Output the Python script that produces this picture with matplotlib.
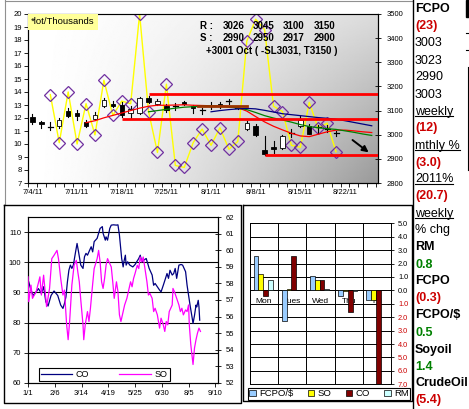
import matplotlib
matplotlib.use('Agg')
import matplotlib.pyplot as plt
import numpy as np
import pandas as pd
from matplotlib.patches import Rectangle, Patch
from matplotlib.lines import Line2D

plt.rcParams['font.family'] = ['Liberation Sans', 'DejaVu Sans']

# ---------------- data: top chart (FCPO daily, Jul-Aug 2011) ----------------
start_day = '2011-07-04'
n_days = 39
opens  = [3074, 3054, 3033, 3037, 3098, 3090, 3054, 3066, 3120, 3127,
          3125, 3089, 3090, 3153, 3129, 3118, 3118, 3136, 3119, 3101,
          3120, 3126, 3141, 3110, 3022, 3036, 2935, 2950, 2944, 3008,
          3036, 3036, 3030, 3025, 3006]
highs  = [3085, 3056, 3051, 3068, 3111, 3102, 3060, 3093, 3151, 3140,
          3134, 3120, 3155, 3159, 3148, 3126, 3130, 3138, 3124, 3111,
          3134, 3134, 3148, 3118, 3055, 3044, 2994, 2975, 2999, 3022,
          3078, 3044, 3042, 3040, 3017]
lows   = [3046, 3026, 3018, 3029, 3074, 3060, 3032, 3060, 3113, 3115,
          3074, 3069, 3087, 3131, 3123, 3094, 3101, 3123, 3090, 3087,
          3107, 3111, 3129, 3105, 3020, 2994, 2918, 2926, 2940, 2992,
          3033, 3003, 3006, 3010, 2994]
closes = [3051, 3043, 3033, 3060, 3079, 3076, 3035, 3083, 3145, 3118,
          3083, 3108, 3152, 3134, 3140, 3102, 3118, 3126, 3112, 3101,
          3120, 3118, 3141, 3110, 3050, 2999, 2922, 2940, 2995, 3008,
          3061, 3005, 3030, 3025, 3006]

vol_start = 2
volume = [13.8, 10.1, 14.0, 10.0, 13.1, 10.7, 14.9, 12.2, 13.3, 13.1,
          20.0, 12.5, 9.35, 14.6, 8.35, 8.2, 10.1, 11.15, 9.9, 11.25,
          9.6, 10.2, 17.9, 19.6, 18.8, 12.9, 12.5, 9.9, 9.75, 13.2,
          11.2, 11.6, 9.4]

red_start = 6
red_ma = [3050, 3058, 3070, 3080, 3090, 3100, 3110, 3118, 3122, 3122,
          3123, 3124, 3122, 3121, 3120, 3119, 3117, 3112, 3098, 3075,
          3053, 3035, 3020, 3006, 2995, 2992, 3002, 3012, 3019, 3019,
          3016, 3012, 3009]
green_start = 13
green_ma = [3095, 3100, 3105, 3110, 3114, 3116, 3118, 3119, 3118, 3115,
            3111, 3104, 3092, 3079, 3069, 3061, 3052, 3042, 3034, 3029,
            3025, 3022, 3016, 3010, 3003, 2997]
blue_start = 20
blue_ma = [3095, 3100, 3104, 3107, 3109, 3107, 3101, 3094, 3087, 3083,
           3079, 3075, 3071, 3068, 3064, 3058, 3051, 3044, 3037]
brown_seg = [18.5, 24.0]
brown_level = 3117

# horizontal resistance / support lines: (start index, level)
level_lines = [(13, 3168), (10, 3067), (26, 2914)]
arrow_from = (35.6, 2985)
arrow_to = (37.9, 2920)

resist_vals = [3026, 3045, 3100, 3150]
support_vals = [2990, 2950, 2917, 2900]
trade_note = '+3001 Oct ( -SL3031, T3150 )'

# ---------------- data: CO / SO 2011 ----------------
co_day = [1, 4, 7, 11, 14, 18, 21, 24, 27, 31,
          35, 40, 44, 47, 49, 51, 53, 55, 57, 59,
          61, 64, 66, 68, 71, 74, 76, 78, 80, 83,
          85, 87, 89, 93, 95, 97, 100, 101, 104, 105,
          107, 110, 112, 115, 119, 121, 123, 126, 128, 129,
          131, 132, 134, 137, 141, 144, 149, 151, 153, 156,
          159, 161, 163, 167, 169, 171, 174, 177, 179, 182,
          185, 187, 189, 191, 194, 196, 198, 200, 203, 206,
          208, 212, 214, 216, 218, 221, 222, 224, 226, 227,
          229, 230, 231]
co_val = [93.5, 90.8, 89.0, 90.2, 91.3, 89.7, 91.9, 86.9, 85.5, 89.0,
          90.5, 89.0, 85.8, 84.7, 86.3, 88.5, 93.5, 97.4, 99.1, 98.0,
          99.1, 103.5, 106.3, 103.5, 99.1, 98.0, 101.9, 103.0, 102.4, 104.1,
          105.2, 103.5, 106.9, 108.0, 109.7, 111.3, 111.9, 109.7, 107.4, 108.5,
          107.4, 111.3, 112.4, 112.5, 112.4, 112.5, 109.1, 101.3, 98.5, 100.2,
          102.4, 99.1, 100.2, 99.1, 98.5, 99.3, 101.3, 102.4, 100.2, 100.8,
          101.3, 99.7, 98.0, 95.8, 92.4, 93.0, 91.9, 90.8, 90.2, 92.4,
          94.7, 96.3, 94.7, 97.4, 95.8, 96.3, 98.0, 94.7, 99.1, 99.3,
          99.1, 96.9, 92.4, 89.1, 85.8, 81.3, 79.7, 82.4, 85.8, 85.2,
          87.4, 85.2, 80.8]
so_day = [0, 1, 4, 6, 11, 16, 18, 21, 25, 29,
          32, 35, 39, 41, 44, 47, 49, 52, 54, 56,
          59, 62, 65, 67, 69, 71, 74, 75, 77, 80,
          82, 84, 86, 89, 93, 95, 97, 99, 101, 103,
          105, 107, 110, 112, 114, 116, 119, 121, 123, 125,
          128, 130, 133, 138, 140, 142, 144, 147, 149, 151,
          153, 155, 158, 160, 162, 164, 167, 169, 171, 174,
          177, 179, 182, 184, 186, 188, 190, 194, 195, 197,
          200, 203, 205, 207, 209, 212, 214, 216, 217, 219,
          222, 224, 226, 228, 230, 232]
so_val = [58.4, 56.9, 57.9, 57.1, 57.5, 58.4, 57.3, 58.5, 56.6, 57.7,
          59.5, 59.7, 60.0, 59.5, 58.3, 57.3, 57.6, 55.5, 54.6, 55.7,
          57.9, 59.1, 59.4, 58.7, 58.1, 57.0, 55.5, 54.6, 55.5, 56.3,
          55.7, 56.5, 57.5, 58.9, 59.5, 60.0, 59.3, 58.1, 57.7, 58.3,
          59.1, 59.5, 59.2, 59.0, 58.1, 57.1, 58.1, 57.5, 56.1, 55.7,
          56.3, 56.7, 57.1, 58.1, 57.8, 58.3, 58.6, 59.1, 58.9, 59.6,
          59.3, 59.6, 58.7, 58.1, 57.3, 57.4, 57.1, 56.3, 56.5, 56.1,
          55.3, 55.9, 55.5, 55.1, 55.7, 55.5, 56.3, 56.7, 57.7, 57.5,
          57.1, 56.7, 56.3, 56.5, 56.1, 56.4, 56.3, 56.7, 55.5, 54.3,
          53.1, 54.1, 54.6, 55.0, 55.3, 55.1]
tick_days = [0, 36, 72, 108, 144, 180, 216, 252]

# ---------------- data: daily % change bars ----------------
weekdays = ['Mon', 'Tues', 'Wed', 'Thu', 'Fri']
bar_names = ['FCPO/$', 'SO', 'CO', 'RM']
bar_colors = ['#99CCFF', '#FFFF00', '#800000', '#CCFFFF']
fcpo_usd = [2.6, -2.3, 1.1, -0.4, -0.75]
so_chg = [1.2, 0.08, 0.75, -0.05, -0.7]
co_chg = [-0.4, 2.6, 0.75, -1.6, -7.0]
rm_chg = [0.75, 0.02, 0.1, -0.05, 0.05]

# ---------------- right column of figures ----------------
RED, GREEN = '#CC0000', '#008000'
side_text = [('FCPO', 'k', 'bold', False), ('(23)', RED, 'bold', False),
             ('3003', 'k', 'normal', False), ('3023', 'k', 'normal', False),
             ('2990', 'k', 'normal', False), ('3003', 'k', 'normal', False),
             ('weekly', 'k', 'normal', True), ('(12)', RED, 'bold', False),
             ('mthly %', 'k', 'normal', True), ('(3.0)', RED, 'bold', False),
             ('2011%', 'k', 'normal', True), ('(20.7)', RED, 'bold', False),
             ('weekly', 'k', 'normal', True), ('% chg', 'k', 'normal', False),
             ('RM', 'k', 'bold', False), ('0.8', GREEN, 'bold', False),
             ('FCPO', 'k', 'bold', False), ('(0.3)', RED, 'bold', False),
             ('FCPO/$', 'k', 'bold', False), ('0.5', GREEN, 'bold', False),
             ('Soyoil', 'k', 'bold', False), ('1.4', GREEN, 'bold', False),
             ('CrudeOil', 'k', 'bold', False), ('(5.4)', RED, 'bold', False)]

# ---------------- layout helpers (pixel -> figure fraction) ----------------
W, H = 469, 409
def fx(x):
    return x / W
def fy(y):
    return 1 - y / H
def box(x0, y0, x1, y1):
    return [fx(x0), fy(y1), fx(x1) - fx(x0), fy(y0) - fy(y1)]
def fline(xs, ys, **kw):
    fig.add_artist(Line2D([fx(v) for v in xs], [fy(v) for v in ys],
                          transform=fig.transFigure, **kw))

fig = plt.figure(figsize=(4.69, 4.09), dpi=100)

# ================= top chart =================
ax = fig.add_axes(box(28, 14, 378, 183))
gx, gy = np.meshgrid(np.linspace(0, 1, 300), np.linspace(0, 1, 150))
shade = 1 - 0.4 * gx ** 1.5 * (0.35 + 0.65 * gy)
ax.imshow(shade, cmap='gray', vmin=0, vmax=1, extent=[0, 1, 0, 1],
          transform=ax.transAxes, aspect='auto', zorder=0, interpolation='bilinear')

vx = np.arange(vol_start, vol_start + len(volume))
ax.plot(vx, volume, color='#FFFF00', lw=1, zorder=2)
ax.plot(vx, volume, ls='none', marker='D', ms=6.3, mfc='none',
        mec='#7030A0', mew=0.9, zorder=2.5)
ax.set_xlim(-0.5, 38.7)
ax.set_ylim(7, 20)
ax.set_yticks(range(7, 21))
ax.tick_params(axis='y', labelsize=5.5, length=3, pad=1.5, width=0.6)

dates = pd.bdate_range(start_day, periods=n_days)
lab_idx = list(range(0, n_days, 5))
ax.set_xticks(np.arange(-0.5, n_days, 1))
ax.set_xticklabels([])
ax.set_xticks(lab_idx, minor=True)
ax.set_xticklabels([f'{d.month}/{d.day}/{d.strftime("%y")}' for d in dates[lab_idx]], minor=True)
ax.tick_params(axis='x', which='major', length=3, width=0.6)
ax.tick_params(axis='x', which='minor', length=0, labelsize=5.5, pad=4)
for s in ax.spines.values():
    s.set_linewidth(0.8)
ax.spines['top'].set_color('#707070')

ax2 = ax.twinx()
ax2.set_ylim(2800, 3500)
ax2.set_yticks(range(2800, 3501, 100))
ax2.tick_params(axis='y', labelsize=5.5, direction='inout', length=5, pad=4, width=0.6)

for i, (o, h, l, c) in enumerate(zip(opens, highs, lows, closes)):
    ax2.plot([i, i], [l, h], color='black', lw=0.8, zorder=2)
    if o == c:
        ax2.plot([i - 0.28, i + 0.28], [o, o], color='black', lw=0.9, zorder=3)
    else:
        ax2.add_patch(Rectangle((i - 0.25, min(o, c)), 0.5, max(abs(c - o), 3),
                                facecolor='black' if c < o else 'white',
                                edgecolor='black', lw=0.6, zorder=3))

ax2.plot(np.arange(red_start, red_start + len(red_ma)), red_ma, color='#FF0000', lw=0.9, zorder=4)
ax2.plot(np.arange(green_start, green_start + len(green_ma)), green_ma, color='#008000', lw=0.9, zorder=4)
ax2.plot(np.arange(blue_start, blue_start + len(blue_ma)), blue_ma, color='#000080', lw=0.9, zorder=4)
ax2.plot(brown_seg, [brown_level, brown_level], color='#993300', lw=2, zorder=4)
for x0, lvl in level_lines:
    ax2.plot([x0, 38.7], [lvl, lvl], color='#FF0000', lw=2, zorder=5, solid_capstyle='butt')
ax2.annotate('', xy=arrow_to, xytext=arrow_from,
             arrowprops=dict(arrowstyle='-|>', color='black', lw=1.4, mutation_scale=9))

def afx(x):
    return (x - 28) / 350
def afy(y):
    return (183 - y) / 169
col_x = [234, 263.5, 294, 325]
for row_y, tag, vals in [(26, 'R :', resist_vals), (38.3, 'S :', support_vals)]:
    ax2.text(afx(200), afy(row_y), tag, transform=ax2.transAxes, fontsize=7,
             weight='bold', va='center', ha='left', zorder=6)
    for cx, v in zip(col_x, vals):
        ax2.text(afx(cx), afy(row_y), str(v), transform=ax2.transAxes, fontsize=7,
                 weight='bold', va='center', ha='center', zorder=6)
ax2.text(afx(272), afy(50.7), trade_note, transform=ax2.transAxes, fontsize=7,
         weight='bold', va='center', ha='center', zorder=6)
ax2.text(afx(31), afy(22), '*lot/Thousands', transform=ax2.transAxes, fontsize=6.8,
         va='center', ha='left', zorder=6,
         bbox=dict(facecolor='#FFFF99', edgecolor='none', boxstyle='square,pad=0.35'))

# ================= bottom left: CO and SO =================
ax3 = fig.add_axes(box(28, 217.3, 218.3, 382.7))
l_co, = ax3.plot(co_day, co_val, color='#000080', lw=0.9, zorder=3)
ax3.set_xlim(0, 256)
ax3.set_ylim(60, 115)
ax3.set_yticks(range(60, 111, 10))
for g in range(70, 111, 10):
    ax3.axhline(g, color='black', lw=0.8, zorder=1)
base = pd.Timestamp('2011-01-01')
ax3.set_xticks(tick_days)
ax3.set_xticklabels([f'{(base + pd.Timedelta(days=d)).month}/{(base + pd.Timedelta(days=d)).day}'
                     for d in tick_days])
ax3.tick_params(labelsize=5.5, length=3, width=0.6, pad=2)
ax3.spines['top'].set_color('#808080')

ax4 = ax3.twinx()
l_so, = ax4.plot(so_day, so_val, color='#FF00FF', lw=0.9, zorder=3)
ax4.set_ylim(52, 62)
ax4.set_yticks(range(52, 63))
ax4.tick_params(labelsize=5.5, direction='inout', length=4, width=0.6, pad=3)
leg = ax4.legend([l_co, l_so], ['CO', 'SO'], loc='upper left',
                 bbox_to_anchor=(0.0315, 0.119, 0.736, 0), mode='expand', ncol=2,
                 fontsize=6.5, fancybox=False, edgecolor='black', framealpha=1,
                 borderpad=0.25, handlelength=3.5, handletextpad=0.4)
leg.get_frame().set_linewidth(0.8)

# ================= bottom right: daily % change =================
ax5 = fig.add_axes(box(250, 223.3, 391, 384.3))
ax5.set_xlim(-0.5, 4.5)
ax5.set_ylim(-7, 5)
for g in range(-7, 6):
    ax5.axhline(g, color='black', lw=0.7, zorder=0.5)
for g in np.arange(-0.5, 5, 1):
    ax5.axvline(g, color='black', lw=0.7, zorder=0.5)
for i, d in enumerate(weekdays):
    ax5.text(i, -0.85, d, ha='center', va='center', fontsize=6, zorder=1)
xpos = np.arange(len(weekdays))
bw = 0.17
for k, (vals, col) in enumerate(zip([fcpo_usd, so_chg, co_chg, rm_chg], bar_colors)):
    ax5.bar(xpos + (k - 1.5) * bw - 0.03, vals, width=bw, color=col,
            edgecolor='black', lw=0.5, zorder=3)
ax5.set_xticks([])
ax5.yaxis.tick_right()
ax5.set_yticks(range(-7, 6))
ax5.set_yticklabels([f'{abs(v):.1f}' for v in range(-7, 6)])
for v, t in zip(range(-7, 6), ax5.get_yticklabels()):
    if v < 0:
        t.set_color('#CC0000')
ax5.tick_params(axis='y', labelsize=5.3, direction='inout', length=4, width=0.6, pad=3)
for s in ax5.spines.values():
    s.set_linewidth(0.7)
handles = [Patch(facecolor=c, edgecolor='black', lw=0.5) for c in bar_colors]
leg2 = ax5.legend(handles, bar_names, loc='upper left',
                  bbox_to_anchor=(-0.014, -0.022, 1.149, 0), mode='expand', ncol=4,
                  fontsize=6.8, fancybox=False, edgecolor='black', framealpha=1,
                  borderpad=0.15, handlelength=0.7, handleheight=0.7,
                  handletextpad=0.3, borderaxespad=0)
leg2.get_frame().set_linewidth(0.8)

# ================= right column text =================
texts = []
for i, (s, col, wt, und) in enumerate(side_text):
    t = fig.text(fx(415), fy(9.5 + 17.0 * i), s, color=col, weight=wt,
                 fontsize=9, ha='left', va='center')
    texts.append((t, und))
fig.canvas.draw()
rend = fig.canvas.get_renderer()
for t, und in texts:
    if und:
        bb = t.get_window_extent(rend)
        yb = bb.y0 + 1.5
        fig.add_artist(Line2D([bb.x0 / W, bb.x1 / W], [yb / H, yb / H],
                              transform=fig.transFigure, color='black', lw=0.8))

# ================= panel frames =================
fline([5, 5], [0, 205], color='#909090', lw=0.8)
fline([5, 412.7], [1, 1], color='#909090', lw=0.8)
fline([4, 241, 241, 4, 4], [205, 205, 403, 403, 205], color='black', lw=1)
fline([243, 412, 412, 243, 243], [205, 205, 401, 401, 205], color='black', lw=1)
fline([412.7, 412.7], [0, 409], color='black', lw=1)
fig.add_artist(Rectangle((fx(466), fy(17)), fx(3), 17 / H, transform=fig.transFigure,
                         color='black'))
fline([466, 469], [33, 33], color='black', lw=0.8)
fline([466, 469], [50, 50], color='black', lw=0.8)
fline([467.5, 467.5], [67, 170], color='black', lw=0.8)

fig.savefig('out.png', dpi=100)
